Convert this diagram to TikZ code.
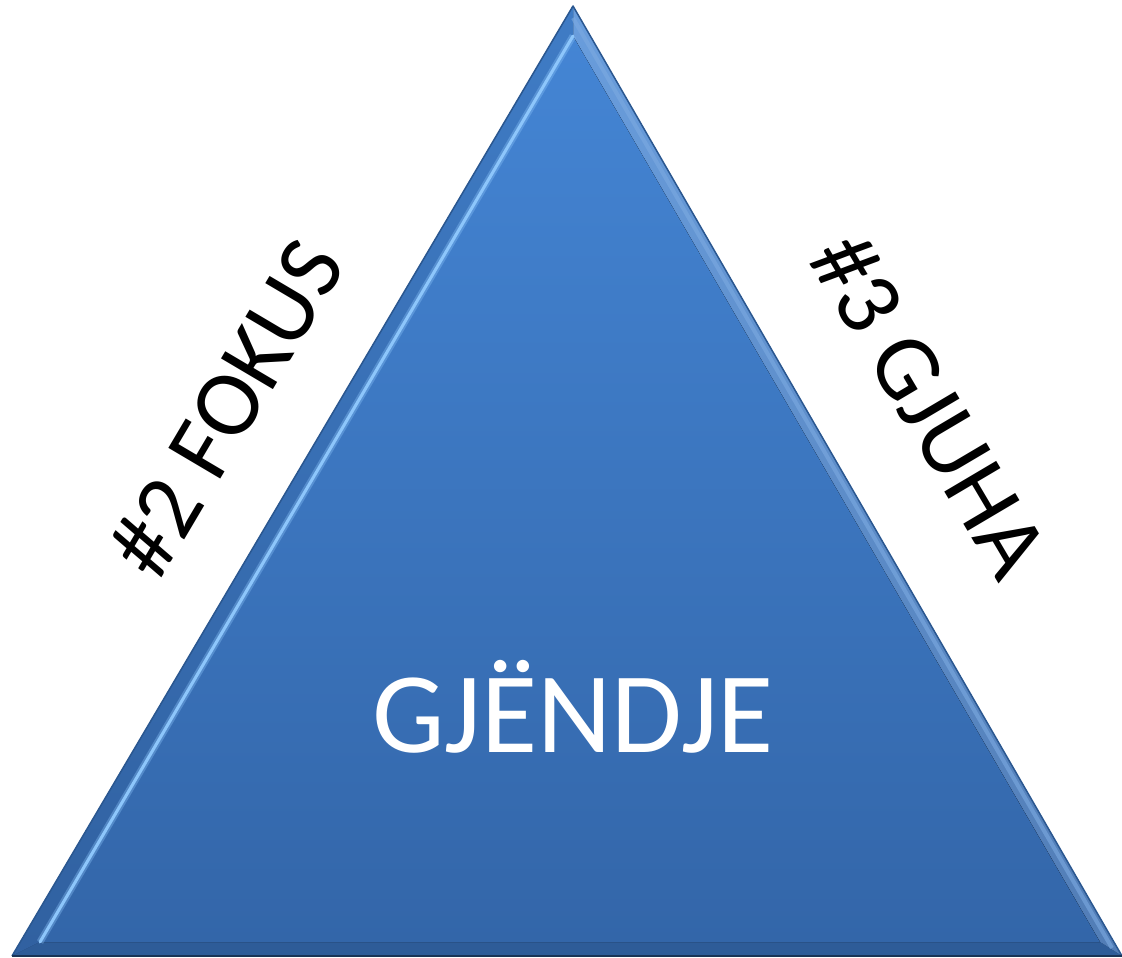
\documentclass[tikz,border=0pt]{standalone}
\usepackage{fontspec}
\setmainfont{Carlito}
\usepackage{tikz}
\usetikzlibrary{positioning}

\definecolor{pyrtop}{HTML}{4485D4}
\definecolor{pyrbot}{HTML}{3366A9}
\definecolor{pyredge}{HTML}{2A5790}
\definecolor{pyrlight}{HTML}{8DC6FB}

\begin{document}
\begin{tikzpicture}[x=1pt,y=-1pt,
        side label/.style={font=\fontsize{94}{94}\selectfont, inner sep=0pt, text=black},
        main label/.style={font=\fontsize{115}{115}\selectfont, inner sep=0pt, text=white}]
        \useasboundingbox (0,0) rectangle (1122,958);
        % outer corners of the pyramid
        \coordinate (apex)   at (573,6);
        \coordinate (base_l) at (12,956);
        \coordinate (base_r) at (1122,956);
        % inner corners of the bevel
        \coordinate (in_apex)   at (573,36);
        \coordinate (in_base_l) at (40,942);
        \coordinate (in_base_r) at (1100,942);
        % right highlight
        \coordinate (hi_apex)   at (573,18);
        \coordinate (hi_base_r) at (1112,948);
        \fill[top color=pyrtop, bottom color=pyrbot] (apex) -- (base_l) -- (base_r) -- cycle;
        \fill[top color=pyrtop!80!white, bottom color=pyrbot!85!white] (apex) -- (in_apex) -- (in_base_r) -- (base_r) -- cycle;
        \fill[top color=pyrtop!93!black, bottom color=pyrbot!95!black] (apex) -- (base_l) -- (in_base_l) -- (in_apex) -- cycle;
        \fill[pyrbot!90!black] (base_l) -- (base_r) -- (in_base_r) -- (in_base_l) -- cycle;
        \fill[top color=pyrtop, bottom color=pyrbot] (in_apex) -- (in_base_l) -- (in_base_r) -- cycle;
        \draw[pyrlight, line width=7pt, opacity=.35] (in_apex) -- (in_base_l);
        \draw[pyrlight, line width=3pt, line cap=round] (in_apex) -- (in_base_l);
        \draw[pyrtop!70!white, line width=4pt, opacity=.6] (hi_base_r) -- (hi_apex);
        \draw[pyredge, line width=1.5pt, line join=round] (base_l) -- (apex) -- (base_r);
        \draw[pyredge!60!black, line width=2pt] (base_l) -- (base_r);
        % labels
        \node[main label, anchor=base] (state) at (573,752) {GJËNDJE};
        \node[side label, rotate=59.4] (focus) at (226,408) {\#2 FOKUS};
        \node[side label, rotate=-59.4] (language) at (930,405) {\#3 GJUHA};
\end{tikzpicture}
\end{document}
